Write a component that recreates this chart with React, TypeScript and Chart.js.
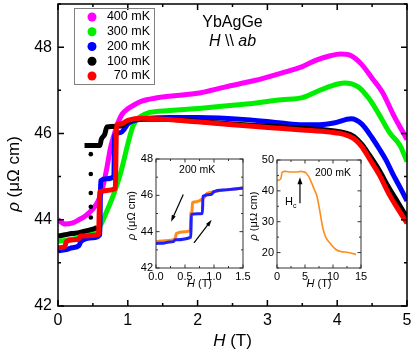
import React, { useEffect, useRef } from 'react';
import { Chart, registerables } from 'chart.js';
Chart.register(...registerables);

const FONT = '"Liberation Sans", Arial, Helvetica, sans-serif';

// ---------- main panel data ----------
const legendLabels = ['400 mK', '300 mK', '200 mK', '100 mK', '70 mK'];
const legendColors = ['#ff00ff', '#00ee00', '#0000ff', '#000000', '#ff0000'];

const h400 = [0, 0.1, 0.2, 0.3, 0.4, 0.5, 0.58, 0.64, 0.7, 0.75, 0.8, 0.86, 0.92, 1.0, 1.1, 1.2, 1.4, 1.7, 2.0, 2.4, 2.8, 3.2, 3.5, 3.7, 3.9, 4.05, 4.2, 4.35, 4.5, 4.65, 4.8, 4.9, 5.0];
const rho400 = [44.0, 43.9, 43.92, 44.0, 44.1, 44.25, 44.45, 44.75, 45.2, 45.65, 45.95, 46.25, 46.45, 46.57, 46.67, 46.75, 46.82, 46.88, 46.93, 47.08, 47.22, 47.4, 47.55, 47.7, 47.8, 47.84, 47.8, 47.6, 47.28, 46.95, 46.45, 46.15, 45.86];

const h300 = [0, 0.1, 0.3, 0.5, 0.6, 0.7, 0.8, 0.9, 1.0, 1.07, 1.15, 1.3, 1.6, 2.0, 2.7, 3.2, 3.5, 3.75, 3.95, 4.1, 4.3, 4.45, 4.6, 4.75, 4.9, 5.0];
const rho300 = [43.5, 43.52, 43.58, 43.7, 43.85, 44.2, 44.6, 45.1, 45.75, 46.15, 46.35, 46.48, 46.53, 46.58, 46.68, 46.78, 46.83, 47.0, 47.12, 47.17, 47.08, 46.82, 46.44, 46.02, 45.72, 45.35];

const h200 = [0, 0.1, 0.2, 0.3, 0.33, 0.5, 0.6, 0.61, 0.7, 0.8, 0.81, 0.9, 0.95, 1.0, 1.1, 1.3, 1.6, 2.0, 2.7, 3.2, 3.5, 3.75, 3.95, 4.2, 4.35, 4.5, 4.6, 4.7, 4.8, 4.9, 5.0];
const rho200 = [43.28, 43.3, 43.35, 43.4, 43.5, 43.58, 43.65, 44.9, 44.95, 45.0, 45.95, 46.02, 46.1, 46.22, 46.3, 46.35, 46.37, 46.37, 46.32, 46.24, 46.2, 46.2, 46.24, 46.34, 46.22, 45.9, 45.65, 45.38, 45.05, 44.75, 44.44];

const h100 = [0.38, 0.6, 0.62, 0.67, 0.7, 0.9, 1.0, 1.2, 1.5, 2.0, 2.5, 3.0, 3.5, 3.9, 4.1, 4.24, 4.35, 4.46, 4.6, 4.74, 4.87, 5.0];
const rho100 = [45.72, 45.72, 45.86, 45.98, 46.15, 46.17, 46.28, 46.33, 46.33, 46.28, 46.22, 46.17, 46.12, 46.07, 46.02, 45.93, 45.75, 45.5, 45.15, 44.74, 44.4, 44.05];
const h100Low = [0, 0.1, 0.2, 0.3, 0.4, 0.5, 0.56];
const rho100Low = [43.62, 43.65, 43.68, 43.7, 43.74, 43.78, 43.82];
const h100Dots = [0.47, 0.47, 0.47, 0.47, 0.47];
const rho100Dots = [44.05, 44.3, 44.62, 45.06, 45.52];

const h70 = [0, 0.1, 0.12, 0.3, 0.32, 0.58, 0.6, 0.82, 0.84, 0.9, 1.0, 1.2, 1.5, 2.0, 2.5, 3.0, 3.5, 3.9, 4.1, 4.24, 4.35, 4.46, 4.6, 4.74, 4.87, 5.0];
const rho70 = [43.35, 43.38, 43.5, 43.55, 43.62, 43.66, 44.65, 44.72, 46.2, 46.22, 46.3, 46.35, 46.33, 46.27, 46.2, 46.14, 46.08, 46.03, 45.98, 45.88, 45.7, 45.42, 45.05, 44.6, 44.25, 43.92];
const h70Dots = [0.83, 0.83, 0.83, 0.83];
const rho70Dots = [44.95, 45.25, 45.55, 45.85];

const mainXLabels = [0, 1, 2, 3, 4, 5];
const mainYLabels = [42, 44, 46, 48];

// ---------- inset 1 (200 mK hysteresis) ----------
const in1HUp = [0, 0.15, 0.2, 0.3, 0.33, 0.6, 0.61, 0.8, 0.81, 0.95, 1.0, 1.2, 1.5];
const in1RhoUp = [43.35, 43.38, 43.42, 43.45, 43.55, 43.7, 44.95, 45.0, 45.95, 46.05, 46.2, 46.3, 46.4];
const in1HDown = [1.5, 1.2, 1.0, 0.88, 0.85, 0.8, 0.7, 0.63, 0.62, 0.6, 0.59, 0.5, 0.35, 0.33, 0.15, 0];
const in1RhoDown = [46.4, 46.3, 46.2, 46.1, 45.95, 45.8, 45.65, 45.6, 45.1, 45.0, 44.05, 44.0, 43.9, 43.6, 43.5, 43.45];
const in1XLabels = [0, 0.5, 1, 1.5];
const in1YLabels = [42, 44, 46, 48];

// ---------- inset 2 (200 mK, up to 14 T) ----------
const in2H = [0, 0.3, 0.7, 0.9, 1.5, 2.5, 3.5, 4.3, 4.7, 5.2, 5.7, 6.2, 6.7, 7.1, 7.5, 7.8, 8.2, 8.7, 9.5, 10.5, 11.5, 12.5, 13.5, 14.1];
const in2Rho = [43.3, 43.5, 44.0, 46.0, 46.3, 46.1, 46.1, 46.3, 46.2, 45.8, 44.5, 42.5, 40.3, 38.5, 35.0, 31.8, 27.8, 25.0, 23.0, 21.0, 20.3, 20.1, 19.7, 19.4];
const in2XLabels = [0, 5, 10, 15];
const in2YLabels = [20, 30, 40, 50];

const zip = (xs: number[], ys: number[]) => xs.map((x, i) => ({ x, y: ys[i] }));

type Part = { t: string; it?: boolean; size?: number; dy?: number };
function drawRich(ctx: CanvasRenderingContext2D, parts: Part[], x: number, y: number, size: number, align: 'left' | 'center' | 'right' = 'center') {
  let w = 0;
  for (const p of parts) {
    ctx.font = `${p.it ? 'italic ' : ''}${p.size ?? size}px ${FONT}`;
    w += ctx.measureText(p.t).width;
  }
  let cx = align === 'center' ? x - w / 2 : align === 'right' ? x - w : x;
  ctx.textAlign = 'left';
  ctx.textBaseline = 'middle';
  for (const p of parts) {
    ctx.font = `${p.it ? 'italic ' : ''}${p.size ?? size}px ${FONT}`;
    ctx.fillText(p.t, cx, y + (p.dy ?? 0));
    cx += ctx.measureText(p.t).width;
  }
}

function framePlugin(id: string, major: number, minor: number, lw: number, color: string, fillWhite: boolean) {
  return {
    id,
    beforeDraw(chart: any) {
      if (!fillWhite) return;
      const { ctx, chartArea: a } = chart;
      ctx.save();
      ctx.fillStyle = '#ffffff';
      ctx.fillRect(a.left, a.top, a.right - a.left, a.bottom - a.top);
      ctx.restore();
    },
    afterDraw(chart: any) {
      const { ctx, chartArea: a, scales } = chart;
      ctx.save();
      ctx.strokeStyle = color;
      ctx.lineWidth = lw;
      ctx.beginPath();
      for (const t of scales.x.ticks) {
        const px = scales.x.getPixelForValue(t.value);
        const len = t.label ? major : minor;
        ctx.moveTo(px, a.bottom); ctx.lineTo(px, a.bottom - len);
        ctx.moveTo(px, a.top); ctx.lineTo(px, a.top + len);
      }
      for (const t of scales.y.ticks) {
        const py = scales.y.getPixelForValue(t.value);
        const len = t.label ? major : minor;
        ctx.moveTo(a.left, py); ctx.lineTo(a.left + len, py);
        ctx.moveTo(a.right, py); ctx.lineTo(a.right - len, py);
      }
      ctx.stroke();
      ctx.strokeRect(a.left, a.top, a.right - a.left, a.bottom - a.top);
      ctx.restore();
    },
  };
}

function axis(min: number, max: number, step: number, labels: number[], size: number, pad: number, fmt: (v: number) => string, fit: (s: any) => void) {
  return {
    type: 'linear',
    min, max,
    grid: { display: false, drawTicks: false },
    border: { display: false },
    ticks: {
      stepSize: step, autoSkip: false, maxRotation: 0, padding: pad, color: '#000',
      font: { family: FONT, size },
      callback: (v: number) => (labels.some((l) => Math.abs(l - v) < 1e-9) ? fmt(v) : ''),
    },
    afterFit: fit,
  };
}

function lineDs(label: string, xs: number[], ys: number[], color: string, width: number) {
  return {
    label, data: zip(xs, ys), borderColor: color, backgroundColor: color, borderWidth: width,
    pointRadius: 0, fill: false, cubicInterpolationMode: 'monotone',
  };
}
function dotDs(label: string, xs: number[], ys: number[], color: string) {
  return {
    label, data: zip(xs, ys), borderColor: color, backgroundColor: color, borderWidth: 0,
    pointRadius: 2.3, showLine: false,
  };
}

export default function App() {
  const mainRef = useRef<HTMLCanvasElement>(null);
  const in1Ref = useRef<HTMLCanvasElement>(null);
  const in2Ref = useRef<HTMLCanvasElement>(null);

  useEffect(() => {
    const charts: Chart[] = [];

    const mainText = {
      id: 'mainText',
      afterDraw(chart: any) {
        const { ctx, chartArea: a, scales } = chart;
        ctx.save();
        ctx.fillStyle = '#000';
        // legend box
        ctx.strokeStyle = '#808080';
        ctx.lineWidth = 1;
        ctx.strokeRect(a.left + 16.5, a.top + 4.5, 80, 76);
        legendLabels.forEach((lab, i) => {
          const cy = a.top + 13 + i * 14.75;
          ctx.fillStyle = legendColors[i];
          ctx.beginPath();
          ctx.arc(a.left + 34, cy, 4.5, 0, Math.PI * 2);
          ctx.fill();
          ctx.fillStyle = '#000';
          drawRich(ctx, [{ t: lab }], a.left + 92, cy, 12.5, 'right');
        });
        // annotations
        const ax = scales.x.getPixelForValue(2.5);
        drawRich(ctx, [{ t: 'YbAgGe' }], ax, scales.y.getPixelForValue(48.57), 16);
        drawRich(ctx, [{ t: 'H', it: true }, { t: ' \\\\ ' }, { t: 'ab', it: true }], ax, scales.y.getPixelForValue(48.14), 16);
        // axis titles
        drawRich(ctx, [{ t: 'H', it: true }, { t: ' (T)' }], (a.left + a.right) / 2, a.bottom + 35, 17);
        ctx.translate(a.left - 44, (a.top + a.bottom) / 2 + 19);
        ctx.rotate(-Math.PI / 2);
        drawRich(ctx, [{ t: 'ρ', it: true }, { t: ' (μΩ cm)' }], 0, 0, 17);
        ctx.restore();
      },
    };

    charts.push(new Chart(mainRef.current!, {
      type: 'line',
      data: {
        datasets: [
          lineDs('70 mK', h70, rho70, legendColors[4], 5),
          dotDs('70 mK dots', h70Dots, rho70Dots, legendColors[4]),
          lineDs('100 mK', h100, rho100, legendColors[3], 5),
          lineDs('100 mK low', h100Low, rho100Low, legendColors[3], 5),
          dotDs('100 mK dots', h100Dots, rho100Dots, legendColors[3]),
          lineDs('200 mK', h200, rho200, legendColors[2], 5),
          lineDs('300 mK', h300, rho300, legendColors[1], 5),
          lineDs('400 mK', h400, rho400, legendColors[0], 5),
        ] as any,
      },
      options: {
        responsive: false, maintainAspectRatio: false, animation: false,
        layout: { padding: { left: 0, top: 2, right: 8, bottom: 0 } },
        plugins: { legend: { display: false }, tooltip: { enabled: false } },
        scales: {
          x: axis(0, 5, 0.5, mainXLabels, 16, 5, (v) => String(v), (s: any) => { s.height = 48; s.paddingLeft = 0; s.paddingRight = 0; }),
          y: axis(42, 49, 1, mainYLabels, 16, 6, (v) => String(v), (s: any) => { s.width = 58; s.paddingTop = 0; s.paddingBottom = 0; }),
        } as any,
      },
      plugins: [framePlugin('mainFrame', 6, 3, 1.5, '#000', false), mainText],
    } as any));

    const in1Text = {
      id: 'in1Text',
      afterDraw(chart: any) {
        const { ctx, chartArea: a, scales: { x, y } } = chart;
        ctx.save();
        ctx.fillStyle = '#000';
        drawRich(ctx, [{ t: '200 mK' }], x.getPixelForValue(0.71), y.getPixelForValue(47.4), 10.5);
        drawRich(ctx, [{ t: 'H', it: true }, { t: ' (T)' }], (a.left + a.right) / 2, a.bottom + 16, 11);
        // arrows
        const arrow = (x0: number, y0: number, x1: number, y1: number) => {
          const p0 = [x.getPixelForValue(x0), y.getPixelForValue(y0)];
          const p1 = [x.getPixelForValue(x1), y.getPixelForValue(y1)];
          const ang = Math.atan2(p1[1] - p0[1], p1[0] - p0[0]);
          ctx.strokeStyle = '#000'; ctx.lineWidth = 1.2;
          ctx.beginPath(); ctx.moveTo(p0[0], p0[1]); ctx.lineTo(p1[0] - 3 * Math.cos(ang), p1[1] - 3 * Math.sin(ang)); ctx.stroke();
          ctx.beginPath();
          ctx.moveTo(p1[0], p1[1]);
          ctx.lineTo(p1[0] - 7 * Math.cos(ang - 0.3), p1[1] - 7 * Math.sin(ang - 0.3));
          ctx.lineTo(p1[0] - 7 * Math.cos(ang + 0.3), p1[1] - 7 * Math.sin(ang + 0.3));
          ctx.closePath(); ctx.fill();
        };
        arrow(0.47, 46.05, 0.26, 44.55);
        arrow(0.655, 43.38, 0.96, 44.65);
        ctx.translate(a.left - 24, (a.top + a.bottom) / 2 + 2);
        ctx.rotate(-Math.PI / 2);
        drawRich(ctx, [{ t: 'ρ', it: true }, { t: ' (μΩ cm)' }], 0, 0, 11);
        ctx.restore();
      },
    };

    charts.push(new Chart(in1Ref.current!, {
      type: 'line',
      data: {
        datasets: [
          lineDs('up', in1HUp, in1RhoUp, '#1f1fff', 3),
          lineDs('down', in1HDown, in1RhoDown, '#ff8c1a', 3),
        ] as any,
      },
      options: {
        responsive: false, maintainAspectRatio: false, animation: false,
        layout: { padding: { left: 0, top: 9, right: 12, bottom: 0 } },
        plugins: { legend: { display: false }, tooltip: { enabled: false } },
        scales: {
          x: axis(0, 1.5, 0.25, in1XLabels, 11, 2, (v) => v.toFixed(1), (s: any) => { s.height = 27; s.paddingLeft = 0; s.paddingRight = 0; }),
          y: axis(42, 48, 1, in1YLabels, 11, 3, (v) => String(v), (s: any) => { s.width = 36; s.paddingTop = 0; s.paddingBottom = 0; }),
        } as any,
      },
      plugins: [framePlugin('in1Frame', 3.5, 2, 1, '#333', true), in1Text],
    } as any));

    const in2Text = {
      id: 'in2Text',
      afterDraw(chart: any) {
        const { ctx, chartArea: a, scales: { x, y } } = chart;
        ctx.save();
        ctx.fillStyle = '#000';
        drawRich(ctx, [{ t: '200 mK' }], x.getPixelForValue(10), y.getPixelForValue(45.8), 10.5);
        drawRich(ctx, [{ t: 'H', it: true }, { t: ' (T)' }], (a.left + a.right) / 2, a.bottom + 16, 11);
        // Hc arrow
        const ax = x.getPixelForValue(4.1);
        const yb = y.getPixelForValue(36);
        const yt = y.getPixelForValue(44.4);
        ctx.strokeStyle = '#000'; ctx.lineWidth = 1.2;
        ctx.beginPath(); ctx.moveTo(ax, yb); ctx.lineTo(ax, yt + 3); ctx.stroke();
        ctx.beginPath(); ctx.moveTo(ax, yt); ctx.lineTo(ax - 2.5, yt + 7); ctx.lineTo(ax + 2.5, yt + 7); ctx.closePath(); ctx.fill();
        drawRich(ctx, [{ t: 'H' }, { t: 'c', size: 7, dy: 4 }], x.getPixelForValue(2.45), y.getPixelForValue(36.4), 11);
        ctx.translate(a.left - 23, (a.top + a.bottom) / 2 + 2);
        ctx.rotate(-Math.PI / 2);
        drawRich(ctx, [{ t: 'ρ', it: true }, { t: ' (μΩ cm)' }], 0, 0, 11);
        ctx.restore();
      },
    };

    charts.push(new Chart(in2Ref.current!, {
      type: 'line',
      data: { datasets: [lineDs('200 mK', in2H, in2Rho, '#ff8c1a', 1.6)] as any },
      options: {
        responsive: false, maintainAspectRatio: false, animation: false,
        layout: { padding: { left: 0, top: 10, right: 14, bottom: 0 } },
        plugins: { legend: { display: false }, tooltip: { enabled: false } },
        scales: {
          x: axis(0, 15, 2.5, in2XLabels, 11, 2, (v) => String(v), (s: any) => { s.height = 27; s.paddingLeft = 0; s.paddingRight = 0; }),
          y: axis(15, 50, 5, in2YLabels, 11, 3, (v) => String(v), (s: any) => { s.width = 27; s.paddingTop = 0; s.paddingBottom = 0; }),
        } as any,
      },
      plugins: [framePlugin('in2Frame', 3.5, 2, 1, '#333', true), in2Text],
    } as any));

    return () => charts.forEach((c) => c.destroy());
  }, []);

  return (
    <div style={{ position: 'fixed', left: 0, top: 0, width: 415, height: 354, background: '#fff' }}>
      <canvas ref={mainRef} width={415} height={354} style={{ position: 'absolute', left: 0, top: 0, width: 415, height: 354 }} />
      <canvas ref={in1Ref} width={135} height={145} style={{ position: 'absolute', left: 120, top: 150, width: 135, height: 145 }} />
      <canvas ref={in2Ref} width={125} height={145} style={{ position: 'absolute', left: 250, top: 150, width: 125, height: 145 }} />
    </div>
  );
}
